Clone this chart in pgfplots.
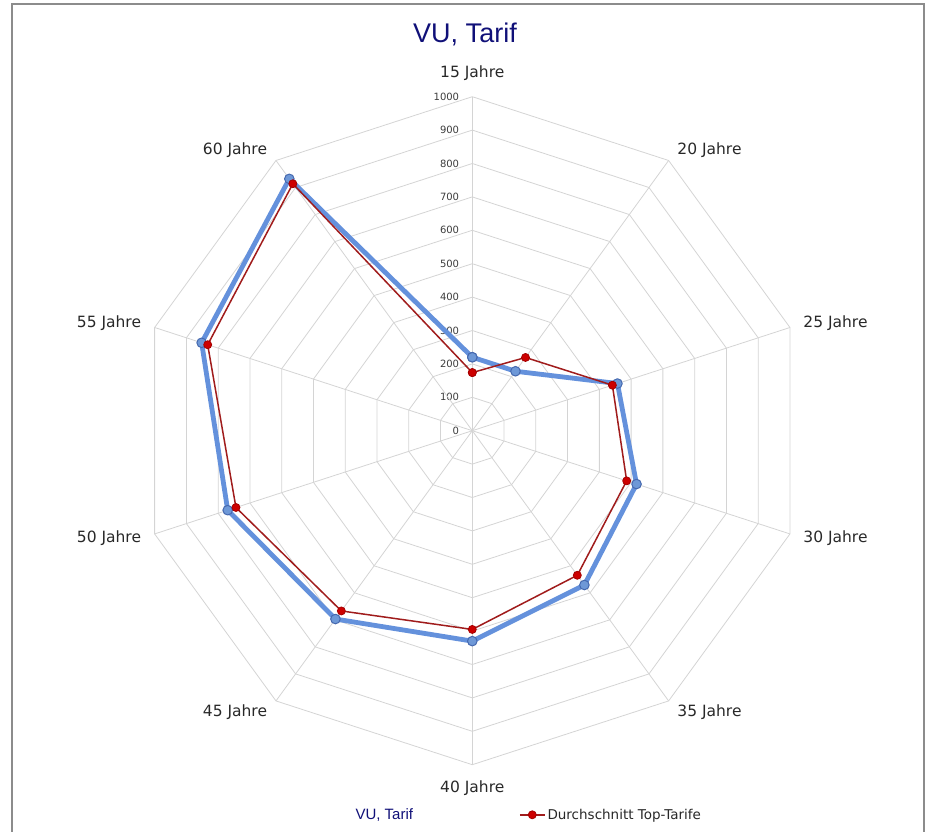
\documentclass[border=0pt]{standalone}
\usepackage{pgfplots}
\pgfplotsset{compat=1.18}
\usepgfplotslibrary{polar}
\usepackage{fontspec}
\setmainfont{DejaVu Sans}
\newfontfamily\arialf{Liberation Sans}
\definecolor{gridc}{RGB}{212,212,212}
\definecolor{framec}{RGB}{140,140,140}
\definecolor{titlec}{RGB}{16,16,120}
\definecolor{labc}{RGB}{40,40,40}
\definecolor{tickc}{RGB}{60,60,60}
\definecolor{blueline}{RGB}{100,145,220}
\definecolor{bluefill}{RGB}{110,152,215}
\definecolor{bluedraw}{RGB}{70,105,175}
\definecolor{redline}{RGB}{160,28,28}
\definecolor{redfill}{RGB}{205,0,0}
\definecolor{reddraw}{RGB}{165,0,0}
\pgfplotsset{redlegend/.style={legend image code/.code={\draw[mark repeat=2,mark phase=2,##1] plot coordinates {(0pt,0pt) (12.5pt,0pt) (25pt,0pt)};}}}
\begin{document}
\begin{tikzpicture}[x=1pt,y=1pt]
\useasboundingbox (-472.3,-401.3) rectangle (453.7,430.7);
\draw[framec, line width=1.2pt] (-460.3,-401.3) -- (-460.3,426.7) -- (451.7,426.7) -- (451.7,-401.3);
\node[font=\arialf\fontsize{27}{31}\selectfont, text=titlec, anchor=base] at (-7.3,388.6) {VU, Tarif};
\begin{polaraxis}[
  at={(0,0)}, anchor=center,
  scale only axis, width=668pt, height=668pt,
  xmin=0, xmax=360, ymin=0, ymax=1000,
  hide axis, clip=false,
  legend columns=2,
  legend cell align=left,
  legend style={draw=none, fill=none, at={(0.3174,-0.075)}, anchor=west,
    /tikz/every even column/.append style={column sep=104pt}},
]
% decagon grid
\pgfplotsinvokeforeach{100,200,300,400,500,600,700,800,900,1000}{
  \draw[gridc, line width=0.8pt] (axis cs:90,#1) -- (axis cs:54,#1) -- (axis cs:18,#1) -- (axis cs:-18,#1) -- (axis cs:-54,#1) -- (axis cs:-90,#1) -- (axis cs:-126,#1) -- (axis cs:-162,#1) -- (axis cs:162,#1) -- (axis cs:126,#1) -- cycle;
  \node[anchor=east, font=\fontsize{10}{11}\selectfont, text=tickc, inner sep=0pt] at (axis cs:90,#1) [xshift=-13pt] {#1};
}
\node[anchor=east, font=\fontsize{10}{11}\selectfont, text=tickc, inner sep=0pt] at (axis cs:90,0) [xshift=-13pt] {0};
\pgfplotsinvokeforeach{90,54,18,-18,-54,-90,-126,-162,162,126}{
  \draw[gridc, line width=0.8pt] (axis cs:0,0) -- (axis cs:#1,1000);
}
% VU, Tarif
\addplot[blueline, line width=4.8pt, line join=round, mark=*, mark size=4.8pt,
  mark options={fill=bluefill, draw=bluedraw, line width=1pt}, forget plot]
  coordinates {(90,220) (54,220) (18,457) (-18,517) (-54,571) (-90,630) (-126,697) (-162,770) (162,852) (126,932) (90,220)};
\addlegendimage{empty legend}
\addlegendentry{\arialf\fontsize{15}{17}\selectfont\textcolor{titlec}{VU, Tarif}}
% Durchschnitt Top-Tarife
\addplot[redline, line width=1.5pt, line join=round, mark=*, mark size=4pt,
  mark options={fill=redfill, draw=reddraw, line width=0.8pt}, redlegend]
  coordinates {(90,174) (54,271) (18,441) (-18,486) (-54,535) (-90,595) (-126,667) (-162,744) (162,833) (126,914) (90,174)};
\addlegendentry{\fontsize{13.5}{15}\selectfont\textcolor{labc}{Durchschnitt Top-Tarife}}
\end{polaraxis}
\begin{scope}[every node/.style={font=\fontsize{15.5}{18}\selectfont, text=labc}]
\node at (0,357.7) {15 Jahre};
\node at (237.2,280.7) {20 Jahre};
\node at (363.2,107.7) {25 Jahre};
\node at (363.2,-107.3) {30 Jahre};
\node at (237.2,-281.3) {35 Jahre};
\node at (0,-357.3) {40 Jahre};
\node at (-237.3,-281.3) {45 Jahre};
\node at (-363.3,-107.3) {50 Jahre};
\node at (-363.3,107.7) {55 Jahre};
\node at (-237.3,280.7) {60 Jahre};
\end{scope}
\end{tikzpicture}
\end{document}
